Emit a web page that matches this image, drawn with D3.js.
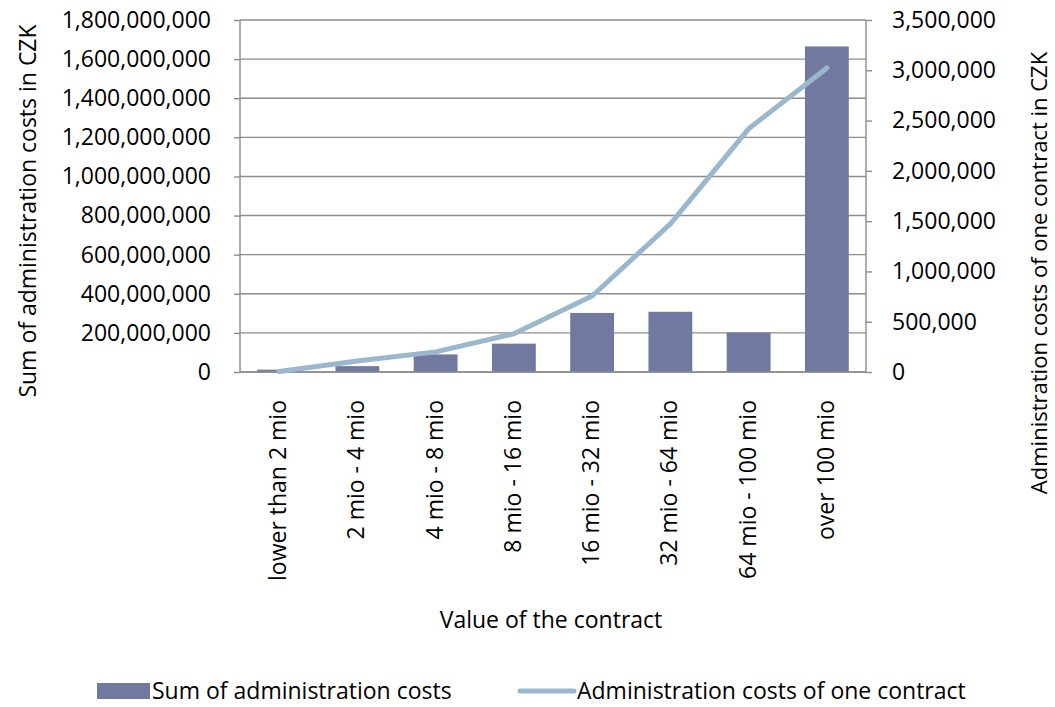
<!DOCTYPE html>
<html>
<head>
<meta charset="utf-8">
<script src="https://cdn.jsdelivr.net/npm/d3@7"></script>
<style>
  html, body { margin: 0; padding: 0; background: #fff; }
  svg { display: block; font-family: "Open Sans", "Noto Sans", sans-serif; }
</style>
</head>
<body>
<svg id="chart" width="1055" height="707"></svg>
<script>
// Contract value bands
const categories = [
  "lower than 2 mio", "2 mio - 4 mio", "4 mio - 8 mio", "8 mio - 16 mio",
  "16 mio - 32 mio", "32 mio - 64 mio", "64 mio - 100 mio", "over 100 mio"
];
// Sum of administration costs per band (CZK)
const sumCosts = [12e6, 30e6, 90e6, 145e6, 302e6, 308e6, 202e6, 1665e6];
// Administration costs of one contract per band (CZK)
const perContract = [5000, 110000, 200000, 380000, 756000, 1472000, 2418000, 3023000];
// Axis ticks
const leftTicks = [0, 2e8, 4e8, 6e8, 8e8, 1e9, 1.2e9, 1.4e9, 1.6e9, 1.8e9];
const rightTicks = [0, 5e5, 1e6, 1.5e6, 2e6, 2.5e6, 3e6, 3.5e6];

const barColor = "#7179a1";
const lineColor = "#9bb7cd";
const gridColor = "#8c8c8c";
const fontSize = 23;

const svg = d3.select("#chart");
const plot = { left: 240, right: 866, top: 20, bottom: 372 };

const x = d3.scaleBand().domain(categories)
  .range([plot.left, plot.right]).paddingInner(0.44).paddingOuter(0.22);
const yL = d3.scaleLinear().domain([0, 1.8e9]).range([plot.bottom, plot.top]);
const yR = d3.scaleLinear().domain([0, 3.5e6]).range([plot.bottom, plot.top]);
const fmt = d3.format(",");

// Horizontal gridlines
svg.append("g").selectAll("line").data(leftTicks).join("line")
  .attr("x1", plot.left).attr("x2", plot.right)
  .attr("y1", d => yL(d)).attr("y2", d => yL(d))
  .attr("stroke", gridColor).attr("stroke-width", 1.4);

// Left axis
const gL = svg.append("g").attr("transform", `translate(${plot.left},0)`)
  .call(d3.axisLeft(yL).tickValues(leftTicks).tickFormat(fmt).tickSize(6).tickPadding(23));
// Right axis
const gR = svg.append("g").attr("transform", `translate(${plot.right},0)`)
  .call(d3.axisRight(yR).tickValues(rightTicks).tickFormat(fmt).tickSize(6).tickPadding(20));
[gL, gR].forEach(g => {
  g.select(".domain").attr("stroke", gridColor).attr("stroke-width", 1.4)
    .attr("d", `M0,${plot.top}V${plot.bottom}`);
  g.selectAll(".tick line").attr("stroke", gridColor).attr("stroke-width", 1.4);
  g.selectAll(".tick text").attr("fill", "#000")
    .style("font-size", fontSize + "px").style("font-family", "Open Sans");
});

// Bars
svg.append("g").selectAll("rect").data(categories).join("rect")
  .attr("x", d => x(d))
  .attr("width", x.bandwidth())
  .attr("y", (d, i) => yL(sumCosts[i]))
  .attr("height", (d, i) => yL(0) - yL(sumCosts[i]))
  .attr("fill", barColor);

// Bottom axis line (over bars)
svg.append("line")
  .attr("x1", plot.left).attr("x2", plot.right)
  .attr("y1", plot.bottom).attr("y2", plot.bottom)
  .attr("stroke", gridColor).attr("stroke-width", 1.4);

// Per-contract line
const line = d3.line()
  .x((d, i) => x(categories[i]) + x.bandwidth() / 2)
  .y(d => yR(d));
svg.append("path").datum(perContract)
  .attr("d", line)
  .attr("fill", "none")
  .attr("stroke", lineColor)
  .attr("stroke-width", 5)
  .attr("stroke-linecap", "round")
  .attr("stroke-linejoin", "round");

// Category labels (rotated)
svg.append("g").selectAll("text").data(categories).join("text")
  .attr("transform", d => `translate(${x(d) + x.bandwidth() / 2 + 7},400) rotate(-90)`)
  .attr("text-anchor", "end")
  .style("font-size", fontSize + "px")
  .text(d => d);

// Axis titles
svg.append("text")
  .attr("x", 551).attr("y", 628)
  .attr("text-anchor", "middle")
  .style("font-size", fontSize + "px")
  .text("Value of the contract");

svg.append("text")
  .attr("transform", "translate(36,211) rotate(-90)")
  .attr("text-anchor", "middle")
  .style("font-size", fontSize + "px")
  .text("Sum of administration costs in CZK");

svg.append("text")
  .attr("transform", "translate(1047,273) rotate(-90)")
  .attr("text-anchor", "middle")
  .style("font-size", "22px")
  .text("Administration costs of one contract in CZK");

// Legend
const legend = svg.append("g");
legend.append("rect")
  .attr("x", 97).attr("y", 683).attr("width", 53).attr("height", 16)
  .attr("fill", barColor);
legend.append("text")
  .attr("x", 152).attr("y", 699)
  .style("font-size", fontSize + "px")
  .text("Sum of administration costs");
legend.append("line")
  .attr("x1", 520).attr("x2", 574).attr("y1", 691).attr("y2", 691)
  .attr("stroke", lineColor).attr("stroke-width", 5).attr("stroke-linecap", "round");
legend.append("text")
  .attr("x", 577).attr("y", 699)
  .style("font-size", fontSize + "px")
  .text("Administration costs of one contract");
</script>
</body>
</html>
